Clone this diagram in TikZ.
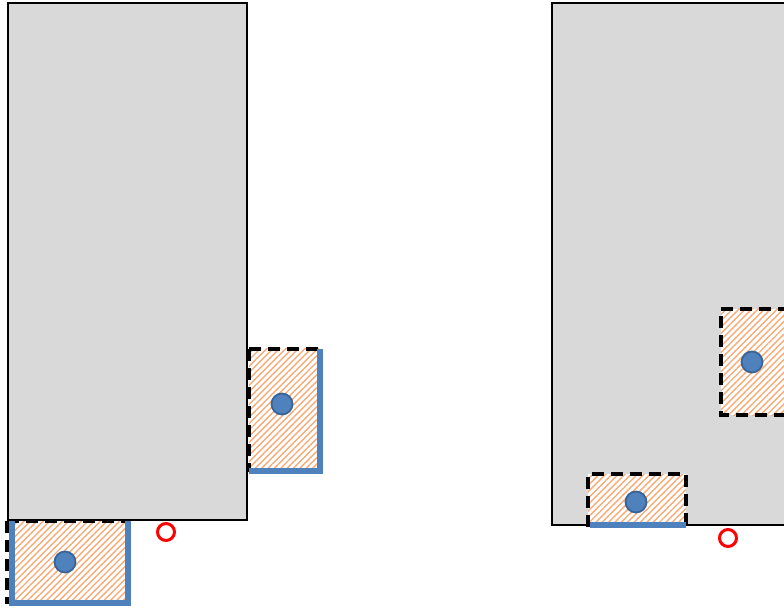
\documentclass[tikz,border=0pt]{standalone}
\usetikzlibrary{patterns.meta}
\definecolor{wandgrau}{HTML}{D9D9D9}
\definecolor{kantblau}{HTML}{4F81BD}
\definecolor{punktrand}{HTML}{3A6496}
\definecolor{schraffur}{HTML}{F6AB78}
\tikzset{
    wand/.style={fill=wandgrau, draw=black, line width=1.2pt},
    flaeche/.style={fill=white, postaction={pattern={Lines[angle=45,distance=4.5pt,line width=1.4pt]}, pattern color=schraffur}},
    strich/.style={draw=black, line width=4pt, dash pattern=on 12pt off 7pt},
    kante/.style={draw=kantblau, line width=6.5pt},
    punkt/.style={circle, fill=kantblau, draw=punktrand, line width=1.8pt, minimum size=21pt, inner sep=0pt},
    ziel/.style={circle, draw=red, line width=3pt, minimum size=17pt, inner sep=0pt}
}
\begin{document}
\begin{tikzpicture}[x=1pt, y=-1pt]
    \useasboundingbox (0,0) rectangle (784,609);
    \clip (0,0) rectangle (784,609);
    % links
    \draw[wand] (8,3) rectangle (247,520);
    \path[flaeche] (10,521) rectangle (129,603);
    \draw[strich] (7,521) -- (129,521);
    \draw[strich] (7,521) -- (7,604);
    \draw[kante] (12,521) -- (12,603) -- (128,603) -- (128,521);
    \node[punkt] (L1) at (65,562) {};
    \path[flaeche] (249,349) rectangle (321,472);
    \draw[strich] (249,349) -- (321,349);
    \draw[strich] (249,349) -- (249,472);
    \draw[kante] (249,471) -- (320,471) -- (320,349);
    \node[punkt] (L2) at (282,404) {};
    \node[ziel] (Z1) at (166,532) {};
    % rechts
    \draw[wand] (552,3) rectangle (800,525);
    \path[flaeche] (588,474) rectangle (686,526);
    \draw[strich] (588,527) -- (588,474) -- (686,474) -- (686,527);
    \draw[kante] (590,525) -- (686,525);
    \node[punkt] (R1) at (636,502) {};
    \path[flaeche] (721,309) rectangle (790,415);
    \draw[strich] (790,309) -- (721,309) -- (721,415) -- (790,415);
    \node[punkt] (R2) at (752,362) {};
    \node[ziel] (Z2) at (728,538) {};
\end{tikzpicture}
\end{document}
